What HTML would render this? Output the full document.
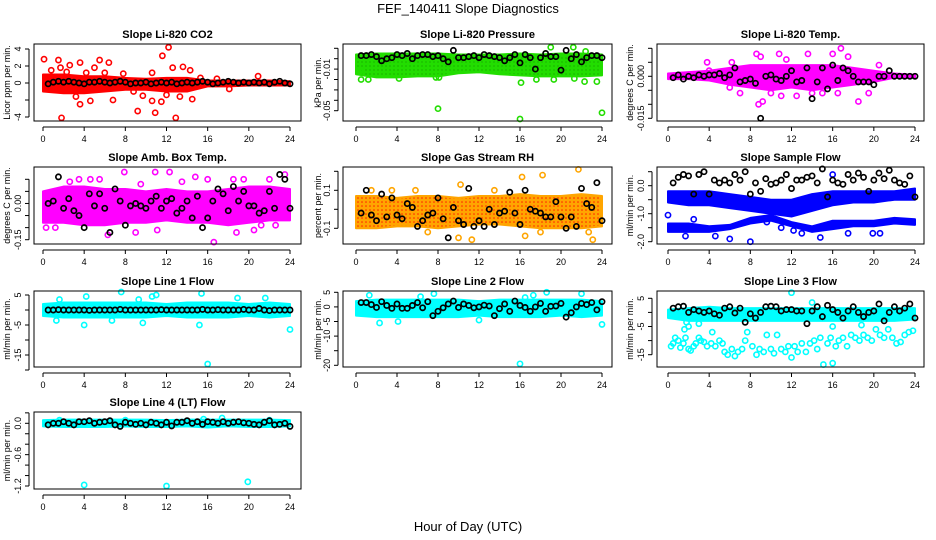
<!DOCTYPE html>
<html><head><meta charset="utf-8"><style>
body{margin:0;background:#fff;}
svg{display:block;font-family:"Liberation Sans",sans-serif;}
</style></head><body>
<svg id="chart" width="936" height="540" viewBox="0 0 936 540">
<defs>
<pattern id="rhpat" width="4" height="4" patternUnits="userSpaceOnUse"><rect width="4" height="4" fill="#ffa500"/><circle cx="2" cy="2" r="0.8" fill="#ff2000"/></pattern>
<pattern id="grpat" width="4" height="4" patternUnits="userSpaceOnUse"><rect width="4" height="4" fill="#22dd00"/><circle cx="2" cy="2" r="0.6" fill="#119900"/></pattern>
</defs>
<text x="468" y="13" font-size="13" text-anchor="middle">FEF_140411  Slope Diagnostics</text>
<text x="468" y="531" font-size="13" text-anchor="middle">Hour of Day (UTC)</text>
</svg>
<script>
const hrs=[0,2,4,6,8,10,12,14,16,18,20,22,24];
const blackHours=[0.5,1,1.5,2,2.5,3,3.5,4,4.5,5,5.5,6,6.5,7,7.5,8,8.5,9,9.5,10,10.5,11,11.5,12,12.5,13,13.5,14,14.5,15,15.5,16,16.5,17,17.5,18,18.5,19,19.5,20,20.5,21,21.5,22,22.5,23,23.5,24];
const xTicks=[0,4,8,12,16,20,24];

const co2Upper=[1,1,0.8,0.8,0.6,0.5,0.6,0.6,0.3,0.3,0.3,0.3,0.2];
const co2Lower=[-1,-1.2,-1.2,-1,-0.8,-0.8,-1,-1,-0.4,-0.4,-0.3,-0.3,-0.3];
const co2OutX=[0.1,1.5,1.7,2.6,3.6,5.5,6.4,1.8,9.2,10.9,11.6,12.2,12.9,13.6,14.5,3.6,4.6,6.8,10.6,11.5,12.6,14.3,0.8,5,7.8,10.6,13.3,20.9,3.2,2.3,4.2,6,8.8,9.7,12,15.3,16.9,18.1];
const co2OutY=[2.8,2.7,1.8,2.1,2.4,2.7,2.4,-4.1,-3.3,-3.5,3.2,4.2,-4.1,1.9,-1.9,-2.5,-2.1,-2,-2.1,-2.2,1.8,1.5,1.5,1.8,1.1,1.2,-1.6,0.8,-1.6,1.3,1.2,1.2,-1,-1.5,-1.4,0.6,0.5,-0.7];
const co2Black=[-0.1,0.1,0.2,0.1,0.2,0.1,0,-0.1,0.1,0.1,0.2,0.1,0,0.1,0.2,0.1,-0.1,0,0,0.1,-0.1,0,0.1,0,0.1,-0.1,0,0.1,0,0.1,0.2,0.1,-0.1,0,0.1,0.2,0.1,0,0.1,0,0.1,0,0.1,-0.1,0.1,0.2,0,-0.1];

const presUpper=[0.004,0.005,0.005,0.005,0.005,0.004,0.004,0.004,0.005,0.004,0.005,0.005,0.004];
const presLower=[-0.015,-0.018,-0.018,-0.017,-0.017,-0.014,-0.013,-0.015,-0.016,-0.017,-0.017,-0.017,-0.016];
const presOutX=[0.4,0.5,1.2,8,16,16.1,24,17.6,19.3,21.3,22.3,23.5,19,21.2,22.4,4.2,7.8,8.1];
const presOutY=[-0.012,-0.02,-0.02,-0.048,-0.058,-0.023,-0.052,-0.02,-0.02,-0.019,-0.022,-0.022,0.011,0.011,0.007,-0.019,-0.018,-0.018];
const presBlack=[0.003,0.003,0.004,0.002,-0.002,0,0.001,0.004,0.003,0.005,0,0.003,0.004,0.004,0.002,0.003,0,-0.003,0.008,0.001,0.001,0.002,0.003,0.001,0.004,0.003,0.002,0.001,-0.002,0.001,0.004,-0.004,0.004,0.001,-0.01,0.001,0.005,0.002,0.002,-0.011,0.008,0,0.004,-0.003,0.001,0.003,0.003,0.001];

const tempUpper=[0.001,0.0015,0.002,0.003,0.004,0.004,0.004,0.004,0.004,0.003,0.002,0.001,0.0005];
const tempLower=[-0.001,-0.001,-0.0015,-0.003,-0.004,-0.005,-0.004,-0.005,-0.004,-0.003,-0.002,-0.0005,-0.0005];
const tempOutX=[3.8,6.2,8.6,9,10.8,11.5,13.6,16,16.8,17.5,20.5,8.8,9.2,11,18.5,15,12.5,7,14,19.5,4,6,10,16.5];
const tempOutY=[0.005,0.005,0.008,0.007,0.008,0.006,0.008,0.008,0.01,0.007,0.004,-0.01,-0.009,-0.007,-0.009,-0.006,-0.007,-0.006,-0.006,-0.006,0.002,-0.004,-0.006,-0.006];
const tempBlack=[-0.0005,0.0005,-0.001,0,-0.0005,0.0005,0,0.0005,0.0005,0.001,-0.0005,0.0005,0.003,-0.002,-0.0015,-0.001,-0.0025,-0.015,0,0.0005,-0.001,-0.0015,0,0.002,-0.002,-0.0015,0.003,-0.008,-0.002,0.003,-0.0045,0.004,-0.0015,0.003,0.002,0,-0.002,-0.002,-0.002,-0.003,0,0,0.002,0,0,0,0,0];

const ambUpper=[0.05,0.07,0.07,0.06,0.06,0.05,0.06,0.05,0.05,0.06,0.07,0.07,0.06];
const ambLower=[-0.08,-0.08,-0.09,-0.09,-0.08,-0.08,-0.07,-0.08,-0.08,-0.09,-0.08,-0.07,-0.07];
const ambOutX=[0.3,1.2,2.6,3.5,4.6,5.5,6.3,7.9,9,9.5,10.9,12.3,13.5,14.8,16,16.6,18.5,18.8,20.5,21.2,22,22.6,23.5,11.1,19.5];
const ambOutY=[-0.1,-0.1,0.09,0.1,0.1,0.1,-0.13,0.13,-0.12,0.08,0.13,0.13,0.09,0.11,0.1,-0.16,0.1,-0.12,-0.11,-0.09,0.1,-0.09,0.12,-0.11,0.1];
const ambBlack=[0,0.01,0.11,-0.02,0.02,-0.03,-0.05,-0.1,0.04,-0.01,0.04,-0.02,-0.12,0.06,0.01,-0.09,-0.01,0,-0.01,-0.02,0.01,0.03,-0.02,0.01,0.02,-0.04,-0.02,0.01,-0.06,0.03,-0.1,-0.06,0.01,0.06,0.04,-0.03,0.07,0.01,0.05,-0.01,-0.01,-0.04,-0.03,0.05,-0.02,0.12,0.1,-0.02];

const rhUpper=[0.07,0.07,0.06,0.07,0.07,0.06,0.07,0.07,0.08,0.07,0.07,0.08,0.07];
const rhLower=[-0.1,-0.1,-0.09,-0.09,-0.1,-0.09,-0.08,-0.08,-0.09,-0.1,-0.1,-0.1,-0.09];
const rhOutX=[1.5,10.2,16.2,18.2,21.7,23.1,22.7,11.3,16.5,10,7,18,3.5,5.8,13.5];
const rhOutY=[0.1,0.13,0.17,0.18,0.21,-0.16,-0.12,-0.16,-0.14,-0.15,-0.12,-0.12,0.1,0.1,0.1];
const rhBlack=[-0.02,0.1,-0.03,-0.06,0.08,-0.04,0.06,-0.03,-0.05,0.03,0.01,-0.09,-0.06,-0.03,-0.02,0.06,-0.05,-0.15,0.01,-0.06,-0.08,0.11,-0.09,-0.06,-0.09,0,-0.08,-0.02,-0.01,0.09,-0.02,-0.08,0.1,0,-0.01,-0.02,-0.04,-0.04,0.04,-0.04,-0.1,-0.04,-0.09,0.11,0.03,0.01,0.14,-0.06];

const flowAUpper=[-0.2,-0.2,-0.2,-0.3,-0.4,-0.5,-0.5,-0.3,-0.2,-0.2,-0.2,-0.2,-0.1];
const flowALower=[-0.6,-0.7,-0.7,-0.8,-0.9,-1.0,-1.1,-0.9,-0.7,-0.6,-0.6,-0.5,-0.5];
const flowBUpper=[-1.35,-1.35,-1.45,-1.4,-1.15,-1.05,-1.3,-1.45,-1.25,-1.25,-1.25,-1.15,-1.2];
const flowBLower=[-1.65,-1.65,-1.65,-1.55,-1.35,-1.25,-1.45,-1.65,-1.55,-1.45,-1.45,-1.35,-1.4];
const flowOutX=[1.7,4.6,8,14.8,19.9,20.6,16,0,9.6,12.2,17.5,2.5,6,11,13];
const flowOutY=[-1.8,-1.8,-2.0,-1.85,-1.7,-1.7,0.4,-1.05,-1.3,-1.6,-1.7,-1.2,-1.9,-1.5,-1.7];
const flowBlack=[0.1,0.3,0.4,0.35,-0.3,0.4,0.5,-0.3,0.2,0.1,0.2,0.1,0.4,0.2,0.5,-0.3,0.1,-0.2,0.25,0.05,0.1,0.2,0.4,-0.1,0.2,0.2,0.3,0.35,0.1,0.6,-0.4,0.2,0.1,0.05,0.4,0.2,0.45,0.3,-0.2,0.2,0.45,0.25,0.55,0.2,0.1,0.05,0.35,-0.4];

const l1Upper=[2,2.5,2.5,2.5,2.5,2.5,2,2.5,2.5,2.5,2,2.5,2];
const l1Lower=[-2,-2.5,-2.5,-2.5,-2.5,-2.5,-2,-2.5,-2.5,-2.5,-2,-2.5,-2];
const l1OutX=[4,4.2,7.6,9.7,15.2,15.4,16,24,1.3,6.7,10.6,11,18.9,21.6,1.6,9.3];
const l1OutY=[-5,4.5,6,-4.3,-5,5.5,-18,-6.5,-3.5,-3.5,4.5,5,4,4,3.5,3.5];
const l1Black=[0,0,0.1,0,0,0,0,0,-0.1,0,0,0,0,0,0.2,0,0,0,0,0,0,0,0.1,0,0,0,0,0,0,0,0.2,0,0,0.1,0,0,0,0,0.2,0,0,0.5,0,-0.2,0,0,0,0];

const l2Upper=[2,2.5,2.5,2.5,2.5,2.5,2,2.5,2.5,2.5,2.5,2.5,2];
const l2Lower=[-3,-3.5,-3.5,-3.5,-3.5,-3.5,-3,-3.5,-3.5,-3.5,-3,-3.5,-3];
const l2OutX=[16,24,2.3,4.1,7.6,18.6,22,1.3,6.3,16.5,17.3,12];
const l2OutY=[-19.5,-6,-5.5,-5,4.5,5,4.5,4,3.5,3.2,4,-4.5];
const l2Black=[1.5,1.5,0.8,-0.2,1.8,0.5,-0.5,1,-0.5,-0.5,0.5,1.5,-0.3,1.8,-3,-1.5,-0.3,1,2,-0.2,1,0.5,-0.3,0,0.6,0.3,-3,-0.6,1,-1.5,2,0.5,-0.2,-1.5,0,1.2,-1.5,0.2,0.3,1.2,-3.5,-2,0,1.2,0.8,1.5,-1,1.8];

const l3Upper=[1,1.5,2,1.5,1.5,1.5,1.5,1.5,1.5,1.5,1.5,1.5,1.5];
const l3Lower=[-2,-3,-3,-3,-3,-3,-3,-3,-3,-3,-3,-3,-2.5];
const l3OutX=[0.3,0.5,0.7,1,1.2,1.5,1.7,2,2.2,2.5,2.7,3,3.2,3.5,3.8,4.2,4.3,4.6,5,5.3,5.5,5.8,6.2,6.5,6.8,7.2,7.5,7.7,8.2,8.6,8.9,9.3,9.6,10,10.3,10.6,11,11.4,11.7,12,12.3,12.6,13,13.4,13.8,14.2,14.5,14.8,15.1,15.5,15.8,16,16.3,16.6,17,17.4,17.8,18.2,18.6,19,19.4,19.8,20.2,20.6,21,21.4,21.8,22.2,22.6,23,23.4,23.8,14,12,16,18.8,1.8,2,1.6,3];
const l3OutY=[-12,-11,-9,-10,-12.5,-11,-9,-13,-13.5,-12,-11,-9,-10,-10.5,-12,-11,-7,-12,-10,-11,-14,-15,-13,-15.5,-14,-13,-10,-7,-12,-15,-13,-14,-8,-13,-14.5,-8,-13,-14,-12,-16,-12,-14,-11,-14,-11,-10,-13,-9,-18.5,-11,-9,-18,-12,-10,-9,-12,-8,-9,-10,-8,-9,-10,-6,-8,-9,-6,-9,-11,-10.5,-8,-7,-6.5,3.5,7,-5,-4.5,-3.5,-5,-6,-4];
const l3Black=[1.5,2,2.2,0,1,0.5,0,0.5,-0.5,-1,1.5,2,-0.2,1.5,-3.5,-0.5,-2,0,2,2.2,2,0.5,1,1,0.5,0.5,-4,0.5,2,-1.5,2.5,1,0,-2,0.5,2,0,-1.5,0,0.5,3,-3,0,2,0.5,1.5,3,-2];

const l4Upper=[0.06,0.07,0.07,0.07,0.07,0.07,0.06,0.07,0.07,0.07,0.07,0.07,0.06];
const l4Lower=[-0.06,-0.07,-0.07,-0.07,-0.06,-0.07,-0.07,-0.06,-0.08,-0.06,-0.07,-0.07,-0.06];
const l4OutX=[4,12,19.9,17.4,1.6,15.6,8,22];
const l4OutY=[-1.18,-1.2,-1.12,0.1,0.06,0.08,0.06,0.06];
const l4Black=[-0.03,0,0,0.03,0,-0.03,0.03,0.03,0.05,0,0.02,0.03,0.05,-0.03,-0.06,0.02,0,-0.02,0,-0.03,0.02,0,-0.03,0.02,-0.05,0.02,0.02,0.05,0,0.03,-0.02,0.03,0.02,0,0.03,0,0.02,0.03,0.01,0,-0.02,-0.03,0.02,0.05,-0.03,-0.02,0,-0.06];

const NS='http://www.w3.org/2000/svg';
const svg=document.getElementById('chart');
function mk(tag,attrs,parent){const e=document.createElementNS(NS,tag);for(const k in attrs)e.setAttribute(k,attrs[k]);(parent||svg).appendChild(e);return e;}

const cols=[{bx0:34,bx1:301,x0:43,x1:290,lab:10},{bx0:343,bx1:612,x0:356,x1:602,lab:321},{bx0:657,bx1:924,x0:668,x1:915,lab:633}];
const rows=[{t:44,b:121},{t:167,b:244},{t:291,b:367},{t:412,b:489}];

const panels=[
{id:'co2',title:'Slope Li-820 CO2',ylab:'Licor ppm per min.',c:0,r:0,v1:4,p1:49,v2:-4,p2:117,ticks:[4,2,0,-2,-4],labs:['4','2','0','','-4'],col:'#ff0000',bands:[[co2Upper,co2Lower]],ox:co2OutX,oy:co2OutY,blk:co2Black},
{id:'pressure',title:'Slope Li-820 Pressure',ylab:'kPa per min.',c:1,r:0,v1:0.01,p1:48.3,v2:-0.05,p2:110.7,ticks:[0.01,0,-0.01,-0.02,-0.03,-0.04,-0.05],labs:['','','-0.01','','','','-0.05'],col:'#22dd00',fill:'url(#grpat)',bands:[[presUpper,presLower]],ox:presOutX,oy:presOutY,blk:presBlack},
{id:'temp',title:'Slope Li-820 Temp.',ylab:'degrees C per min.',c:2,r:0,v1:0.01,p1:48.3,v2:-0.015,p2:118.3,ticks:[0.01,0.005,0,-0.005,-0.01,-0.015],labs:['','','0.000','','','-0.015'],col:'#ff00ff',bands:[[tempUpper,tempLower]],ox:tempOutX,oy:tempOutY,blk:tempBlack},
{id:'amb-box-temp',title:'Slope Amb. Box Temp.',ylab:'degrees C per min.',c:0,r:1,v1:0.1,p1:179.3,v2:-0.15,p2:239.7,ticks:[0.1,0.05,0,-0.05,-0.1,-0.15],labs:['','','0.00','','','-0.15'],col:'#ff00ff',bands:[[ambUpper,ambLower]],ox:ambOutX,oy:ambOutY,blk:ambBlack},
{id:'gas-rh',title:'Slope Gas Stream RH',ylab:'percent per min.',c:1,r:1,v1:0.1,p1:190.3,v2:-0.1,p2:228.3,ticks:[0.2,0.1,0,-0.1],labs:['','0.1','','-0.1'],col:'#ffa500',fill:'url(#rhpat)',bands:[[rhUpper,rhLower]],ox:rhOutX,oy:rhOutY,blk:rhBlack},
{id:'sample-flow',title:'Slope Sample Flow',ylab:'ml/min per min.',c:2,r:1,v1:0,p1:185.7,v2:-2,p2:241.7,ticks:[0.5,0,-0.5,-1,-1.5,-2],labs:['','0.0','','-1.0','','-2.0'],col:'#0000ff',bands:[[flowAUpper,flowALower],[flowBUpper,flowBLower]],ox:flowOutX,oy:flowOutY,blk:flowBlack},
{id:'line1-flow',title:'Slope Line 1 Flow',ylab:'ml/min per min.',c:0,r:2,v1:5,p1:295,v2:-15,p2:355,ticks:[5,0,-5,-10,-15,-20],labs:['5','','-5','','-15',''],col:'#00ffff',bands:[[l1Upper,l1Lower]],ox:l1OutX,oy:l1OutY,blk:l1Black},
{id:'line2-flow',title:'Slope Line 2 Flow',ylab:'ml/min per min.',c:1,r:2,v1:5,p1:292.3,v2:-20,p2:365.3,ticks:[5,0,-5,-10,-15,-20],labs:['5','0','-5','-10','','-20'],col:'#00ffff',bands:[[l2Upper,l2Lower]],ox:l2OutX,oy:l2OutY,blk:l2Black},
{id:'line3-flow',title:'Slope Line 3 Flow',ylab:'ml/min per min.',c:2,r:2,v1:5,p1:298.3,v2:-15,p2:354.7,ticks:[5,0,-5,-10,-15],labs:['5','','-5','','-15'],col:'#00ffff',bands:[[l3Upper,l3Lower]],ox:l3OutX,oy:l3OutY,blk:l3Black},
{id:'line4-flow',title:'Slope Line 4 (LT) Flow',ylab:'ml/min per min.',c:0,r:3,v1:0,p1:423.3,v2:-1.2,p2:486,ticks:[0.2,0,-0.2,-0.4,-0.6,-0.8,-1,-1.2],labs:['','0.0','','','-0.6','','','-1.2'],col:'#00ffff',bands:[[l4Upper,l4Lower]],ox:l4OutX,oy:l4OutY,blk:l4Black}
];

panels.forEach(p=>{
  const C=cols[p.c],R=rows[p.r];
  const xs=h=>C.x0+(h/24)*(C.x1-C.x0);
  const ys=v=>p.p1+(v-p.v1)/(p.v2-p.v1)*(p.p2-p.p1);
  const g=mk('g',{});
  
  
  const t=mk('text',{x:(C.bx0+C.bx1)/2,y:R.t-6,'font-size':11,'font-weight':'bold','text-anchor':'middle'},g);
  t.textContent=p.title;
  
  
  const bg=mk('g',{},g);
  
  
  p.bands.forEach(b=>{
    let pts=[];
    hrs.forEach((h,i)=>pts.push(xs(h)+','+ys(b[0][i])));
    for(let i=hrs.length-1;i>=0;i--)pts.push(xs(hrs[i])+','+ys(b[1][i]));
    const pg=mk('polygon',{points:pts.join(' '),fill:p.fill||p.col,stroke:p.col,'stroke-width':2,'stroke-linejoin':'round'},bg);
    
    
  });
  p.ox.forEach((h,i)=>{
    const c=mk('circle',{cx:xs(h),cy:ys(p.oy[i]),r:2.6,fill:'none',stroke:p.col,'stroke-width':1.6},g);
    
    
  });
  blackHours.forEach((h,i)=>{
    const c=mk('circle',{cx:xs(h),cy:ys(p.blk[i]),r:2.6,fill:'none',stroke:'#000','stroke-width':1.7},g);
    
    
  });
  const box=mk('rect',{x:C.bx0,y:R.t,width:C.bx1-C.bx0,height:R.b-R.t,fill:'none',stroke:'#000','stroke-width':1},g);
  
  
  const xa=mk('g',{},g);
  
  
  mk('line',{x1:xs(0),x2:xs(24),y1:R.b+6,y2:R.b+6,stroke:'#000'},xa);
  xTicks.forEach(v=>{
    mk('line',{x1:xs(v),x2:xs(v),y1:R.b+6,y2:R.b+10,stroke:'#000'},xa);
    const tx=mk('text',{x:xs(v),y:R.b+21,'font-size':9,'text-anchor':'middle'},xa);
    tx.textContent=v;
    
    
  });
  const ya=mk('g',{},g);
  
  
  const ax=C.bx0-5;
  mk('line',{x1:ax,x2:ax,y1:ys(p.ticks[0]),y2:ys(p.ticks[p.ticks.length-1]),stroke:'#000'},ya);
  p.ticks.forEach((v,i)=>{
    mk('line',{x1:ax-4,x2:ax,y1:ys(v),y2:ys(v),stroke:'#000'},ya);
    if(p.labs[i]){
      const tx=mk('text',{x:ax-8,y:ys(v),'font-size':9,'text-anchor':'middle',transform:`rotate(-90 ${ax-8} ${ys(v)})`},ya);
      tx.textContent=p.labs[i];
      
      
    }
  });
  const cy=(R.t+R.b)/2;
  const yl=mk('text',{x:C.lab,y:cy,'font-size':9,'text-anchor':'middle',transform:`rotate(-90 ${C.lab} ${cy})`},g);
  yl.textContent=p.ylab;
  
  
});
</script>
</body></html>
